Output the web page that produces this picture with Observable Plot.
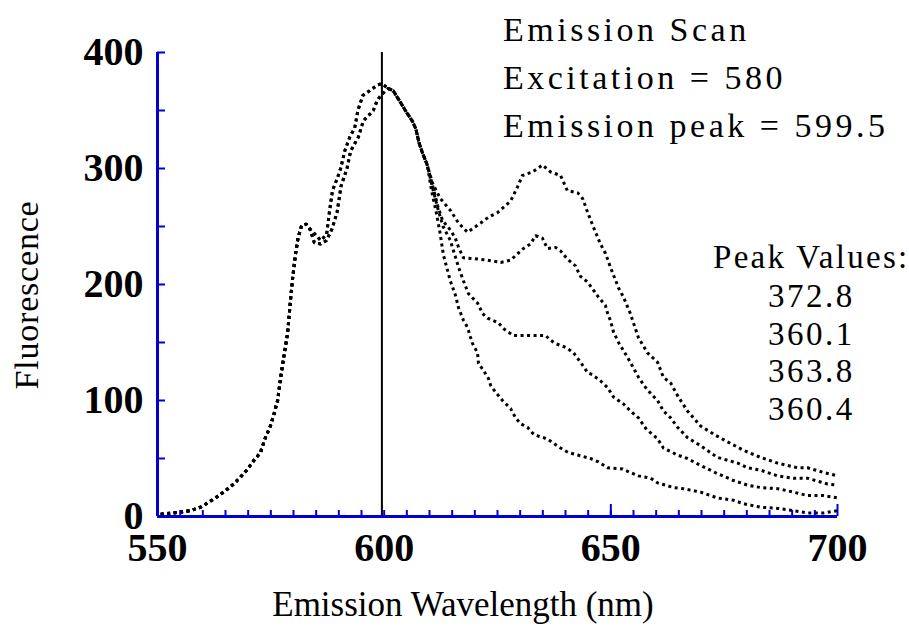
<!DOCTYPE html>
<html><head><meta charset="utf-8">
<script src="https://cdn.jsdelivr.net/npm/d3@7"></script>
<script src="https://cdn.jsdelivr.net/npm/@observablehq/plot@0.6"></script>
<style>
body{margin:0;background:#fff;}
#wrap{width:909px;height:629px;}
</style></head><body><div id="wrap"></div>
<script>
// ---- data ----
const xDomain = [550, 700];
const yDomain = [0, 400];
const xTickLabels = [550, 600, 650, 700];
const yTickLabels = [0, 100, 200, 300, 400];
const peakWavelength = 599.5;
const excitation = 580;
const peakValues = ["372.8", "360.1", "363.8", "360.4"];

// shared rise (all four scans)
const rise = [[550.7,2],[553.5,3],[557.3,5],[559.5,8],[562.4,15],[564.6,21],[566.8,28],[568.3,34],[569.9,41],[571.2,48],[572.7,55],[573.8,68],[574.9,78],[575.6,87],[576.5,100],[577.1,118],[577.8,136],[578.7,158],[579.3,185],[579.8,205],[580.4,225],[581.0,240],[581.8,251],[582.8,252],[583.6,248]];
// two slightly offset tracks up to the main peak
const trackL = [[584.6,244],[586,238],[587.3,243],[587.9,262],[588.6,281],[589.7,292],[590.4,300],[591.3,315],[592.4,327],[593.5,335],[594.2,350],[595.3,363],[596.8,367],[598.5,372],[599.5,373]];
const trackR = [[584.6,236],[586,235],[587.3,238],[588.5,248],[589.6,262],[590.5,285],[591.8,300],[592.6,315],[594.3,327],[595.4,341],[597.6,350],[598.5,359],[599.5,364]];
// shared fall after the peak
const fall = [[600.9,369],[602,367],[603.6,357],[605,348],[606.2,341],[607,334],[607.7,322],[608.4,314],[609.5,303]];

const tailA = [[610.7,287],[612.4,274],[614.6,264],[616.4,253],[618.4,245],[621.3,253],[623.0,258],[625.0,262],[627.9,272],[629.4,284],[630.5,294],[632.7,297],[634.9,303],[636.7,297],[638.9,294],[640.4,281],[642.7,279],[643.8,274],[644.9,262],[646.0,251],[647.7,235],[648.8,227],[649.9,215],[651.7,197],[652.8,189],[654.3,175],[656.1,154],[658.1,141],[660.3,133],[661.6,120],[663.2,115],[664.9,103],[666.9,91],[669.8,78],[673.1,70],[676.4,63],[679.3,57],[683.0,51],[686.8,46],[691.2,42],[693.4,42],[696.9,38],[700,35]];
const tailB = [[610.7,285],[611.8,268],[612.9,255],[614.6,247],[615.7,240],[616.4,232],[617.5,223],[620.6,222],[622.8,221],[625.7,219],[627.9,221],[629.0,225],[630.7,231],[632.3,235],[633.4,242],[634.9,240],[636.0,231],[637.8,232],[638.9,229],[640.4,222],[642.2,216],[643.3,207],[644.9,202],[646.2,195],[647.3,189],[648.8,182],[649.3,175],[649.9,169],[650.6,159],[651.7,150],[652.8,143],[653.7,137],[655.0,128],[656.1,120],[657.7,111],[658.8,106],[660.3,100],[661.6,91],[663.2,85],[664.7,77],[666.9,68],[669.8,61],[673.5,51],[678.0,46],[680.2,42],[683.0,40],[686.8,35],[690.3,33],[693.4,33],[697.8,28],[700,27]];
const tailC = [[610.7,283],[611.8,266],[613.0,250],[614.6,238],[615.3,229],[616.4,215],[617.5,203],[618.6,192],[620.6,184],[621.7,175],[622.8,171],[625.2,167],[626.3,162],[628.5,156],[632.7,156],[635.6,156],[636.7,152],[637.8,149],[639.3,147],[640.4,145],[641.8,141],[643.3,133],[644.9,124],[646.0,122],[647.7,117],[649.3,111],[650.6,103],[652.8,97],[654.3,91],[656.1,85],[657.7,76],[658.8,72],[660.3,67],[661.6,59],[664.7,53],[666.9,50],[669.8,44],[673.5,37],[677.1,31],[680.2,27],[683.0,25],[686.8,24],[690.3,21],[693.4,18],[696.9,18],[700,16]];
const tailD = [[610.5,280],[611.5,262],[612.3,245],[613.1,225],[614.6,203],[615.7,191],[616.4,180],[617.5,169],[618.4,163],[619.0,155],[619.5,149],[620.6,141],[620.8,132],[621.9,126],[623.0,119],[623.5,113],[624.6,107],[626.1,100],[627.9,93],[629.0,85],[630.1,80],[631.6,77],[632.7,72],[633.4,70],[635.2,68],[636.3,66],[638.9,59],[640.7,55],[642.7,53],[645.5,50],[647.3,47],[649.3,42],[652.6,41],[654.3,38],[656.1,35],[658.8,33],[660.3,29],[663.8,25],[666.0,24],[669.8,21],[673.5,16],[677.1,14],[679.3,11],[683.0,8],[686.8,7],[690.3,5],[693.4,3],[696.9,3],[700,5]];

// ---- build table ----
const series = [
  {name: "A", pts: [...rise, ...trackL, ...fall, ...tailA]},
  {name: "B", pts: [...rise, ...trackR, ...fall, ...tailB]},
  {name: "C", pts: [...rise, ...trackL, ...fall, ...tailC]},
  {name: "D", pts: [...rise, ...trackR, ...fall, ...tailD]}
];
const rows = series.flatMap(s => s.pts.map(([w, v]) => ({series: s.name, w, v})));

const blue = "#0000d6";
const serif = "'Liberation Serif', 'Times New Roman', serif";
const W = 909, H = 629, mL = 157, mR = 72, mT = 52, mB = 113;
const frameW = W - mL - mR, frameH = H - mT - mB;
const minorX = d3.range(555, 700, 5);
const majorX = [650, 700];
const yTicks = d3.range(50, 401, 50);

const chart = Plot.plot({
  width: W, height: H,
  marginLeft: mL, marginRight: mR, marginTop: mT, marginBottom: mB,
  x: {domain: xDomain},
  y: {domain: yDomain},
  style: {fontFamily: serif, background: "white", color: "black"},
  marks: [
    Plot.line(rows, {x: "w", y: "v", z: "series", stroke: "black", strokeWidth: 3, strokeDasharray: "3,3.5", strokeLinecap: "butt"}),
    Plot.ruleX([peakWavelength], {y1: yDomain[0], y2: yDomain[1], stroke: "black", strokeWidth: 2}),
    Plot.tickX(minorX, {x: d => d, stroke: blue, strokeWidth: 2, insetTop: frameH - 6}),
    Plot.tickX(majorX, {x: d => d, stroke: blue, strokeWidth: 2, insetTop: frameH - 12}),
    Plot.tickY(yTicks, {y: d => d, stroke: blue, strokeWidth: 2, insetRight: frameW - 8}),
    Plot.ruleY([0], {stroke: blue, strokeWidth: 3}),
    Plot.ruleX([xDomain[0]], {stroke: blue, strokeWidth: 3}),
    Plot.axisX(xTickLabels, {tickSize: 0, tickPadding: 16, fontSize: 40, fontWeight: "bold", fontFamily: serif, label: null}),
    Plot.axisY(yTickLabels, {tickSize: 0, tickPadding: 14, fontSize: 40, fontWeight: "bold", fontFamily: serif, label: null})
  ]
});

document.getElementById("wrap").appendChild(chart);

// ---- annotation texts ----
const svg = d3.select(chart);
function txt(x, y, s, opts = {}) {
  const t = svg.append("text").attr("x", x).attr("y", y).text(s)
    .attr("font-family", serif).attr("font-size", opts.size || 33)
    .attr("fill", "black").attr("letter-spacing", opts.ls != null ? opts.ls : 3)
    .attr("text-anchor", opts.anchor || "start");
  if (opts.rotate) t.attr("transform", `rotate(-90 ${x} ${y})`);
  return t;
}
const headLines = ["Emission Scan", `Excitation = ${excitation}`, `Emission peak = ${peakWavelength}`];
headLines.forEach((s, i) => txt(503, 41 + i * 48, s, {size: 34, ls: 3.5}));
txt(713, 268, "Peak Values:", {size: 33, ls: 2.3});
peakValues.forEach((s, i) => txt(768, 307 + i * 37.7, s, {size: 33, ls: 2.5}));
txt(463, 616, "Emission Wavelength (nm)", {size: 35, ls: 0, anchor: "middle"});
txt(38, 295, "Fluorescence", {size: 34, ls: 0.8, anchor: "middle", rotate: true});
</script></body></html>
